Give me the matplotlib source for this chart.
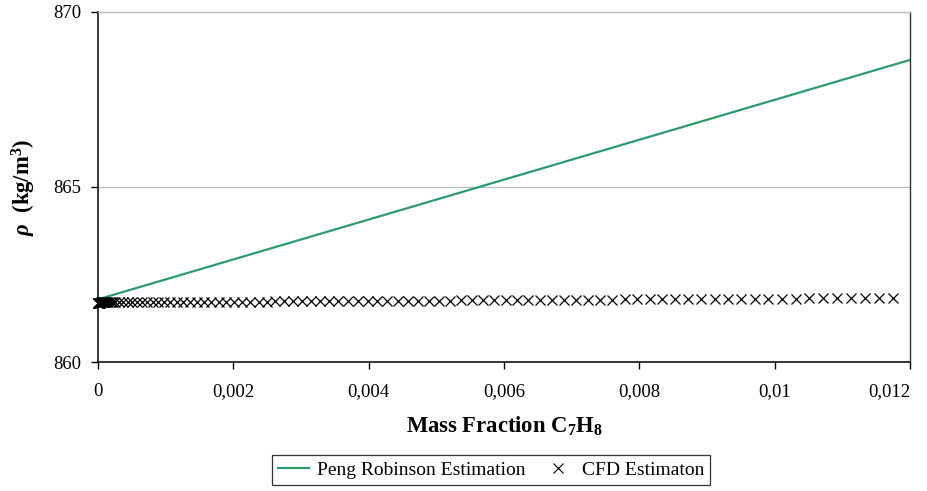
import matplotlib
matplotlib.use('Agg')
import matplotlib.pyplot as plt
from matplotlib.lines import Line2D

plt.rcParams['font.family'] = 'Liberation Serif'
plt.rcParams['mathtext.fontset'] = 'custom'
plt.rcParams['mathtext.rm'] = 'Liberation Serif:bold'
plt.rcParams['mathtext.it'] = 'Liberation Serif:bold:italic'
plt.rcParams['mathtext.bf'] = 'Liberation Serif:bold'

# Peng Robinson estimation (straight line)
pr_x = [0.0, 0.006, 0.012]
pr_y = [861.79, 865.21, 868.63]

# CFD estimation points
cfd_x = [0.0, 0.000001, 0.000003, 0.000006, 0.000010, 0.000015, 0.000020, 0.000025,
         0.000035, 0.000045, 0.000055, 0.000068, 0.000080, 0.000090, 0.000106,
         0.000125, 0.000140, 0.000151, 0.000175, 0.000200, 0.000225, 0.000253,
         0.000310, 0.000372, 0.000437, 0.000505, 0.000576, 0.000650, 0.000729,
         0.000810, 0.000894, 0.000981, 0.001071, 0.001165, 0.001261, 0.001360,
         0.001463, 0.001566, 0.001674, 0.001785, 0.001899, 0.002014, 0.002131,
         0.002251, 0.002372, 0.002496, 0.002622, 0.002749, 0.002879, 0.003010,
         0.003143, 0.003278, 0.003415, 0.003554, 0.003695, 0.003838, 0.003983,
         0.004129, 0.004277, 0.004427, 0.004580, 0.004733, 0.004889, 0.005045,
         0.005205, 0.005364, 0.005527, 0.005691, 0.005857, 0.006023, 0.006192,
         0.006362, 0.006535, 0.006709, 0.006884, 0.007059, 0.007237, 0.007416,
         0.007597, 0.007781, 0.007965, 0.008152, 0.008339, 0.008530, 0.008722,
         0.008915, 0.009111, 0.009307, 0.009505, 0.009703, 0.009904, 0.010105,
         0.010309, 0.010513, 0.010717, 0.010921, 0.011128, 0.011335, 0.011542,
         0.011749]
cfd_y = [861.700, 861.700, 861.700, 861.700, 861.700, 861.700, 861.700, 861.700,
         861.700, 861.701, 861.701, 861.701, 861.701, 861.701, 861.701,
         861.701, 861.702, 861.702, 861.702, 861.702, 861.702, 861.703,
         861.703, 861.704, 861.705, 861.706, 861.706, 861.707, 861.708,
         861.709, 861.710, 861.711, 861.712, 861.713, 861.714, 861.715,
         861.716, 861.717, 861.718, 861.720, 861.721, 861.722, 861.723,
         861.725, 861.726, 861.727, 861.729, 861.730, 861.732, 861.733,
         861.735, 861.736, 861.738, 861.739, 861.741, 861.742, 861.744,
         861.745, 861.747, 861.749, 861.750, 861.752, 861.754, 861.755,
         861.757, 861.759, 861.761, 861.763, 861.764, 861.766, 861.768,
         861.770, 861.772, 861.774, 861.776, 861.778, 861.780, 861.782,
         861.784, 861.786, 861.788, 861.790, 861.792, 861.794, 861.796,
         861.798, 861.800, 861.802, 861.805, 861.807, 861.809, 861.811,
         861.813, 861.816, 861.818, 861.820, 861.822, 861.824, 861.827,
         861.829]

x_ticks = [0, 0.002, 0.004, 0.006, 0.008, 0.010, 0.012]
x_tick_labels = ['0', '0,002', '0,004', '0,006', '0,008', '0,01', '0,012']
y_ticks = [860, 865, 870]

green = '#2E9B6B'

fig = plt.figure(figsize=(9.28, 4.91), dpi=100, facecolor='white')
ax = fig.add_axes([0.1056, 0.2627, 0.8750, 0.7129])

ax.plot(pr_x, pr_y, color=green, linewidth=1.6, zorder=3)
ax.plot(cfd_x, cfd_y, linestyle='none', marker='x', markersize=6.5,
        markeredgewidth=0.9, color='black', zorder=4, clip_on=False)

ax.set_xlim(0, 0.012)
ax.set_ylim(860, 870)
ax.set_xticks(x_ticks)
ax.set_xticklabels(x_tick_labels)
ax.set_yticks(y_ticks)
ax.tick_params(axis='both', direction='out', length=5, width=1, labelsize=13.5,
               colors='black')
ax.tick_params(axis='x', pad=10)
ax.tick_params(axis='y', pad=7)
# last x label kept inside the figure, as in the original
ax.get_xticklabels()[-1].set_horizontalalignment('right')
ax.yaxis.grid(True, color='#BBBBBB', linewidth=0.9)
ax.set_axisbelow(True)

ax.spines['left'].set_color('black')
ax.spines['bottom'].set_color('black')
ax.spines['left'].set_linewidth(1.1)
ax.spines['bottom'].set_linewidth(1.1)
ax.spines['top'].set_color('#BBBBBB')
ax.spines['right'].set_color('#333333')
ax.spines['top'].set_linewidth(0.9)
ax.spines['right'].set_linewidth(1.0)

ax.set_xlabel('Mass Fraction C$_7$H$_8$', fontsize=16.3, fontweight='bold', labelpad=11)
ax.set_ylabel('$\\rho$  (kg/m$^3$)', fontsize=16.3, fontweight='bold', labelpad=11)

handles = [Line2D([], [], color=green, linewidth=1.6),
           Line2D([], [], linestyle='none', marker='x', color='black',
                  markersize=6.5, markeredgewidth=0.8)]
leg = fig.legend(handles, ['Peng Robinson Estimation', 'CFD Estimaton'],
                 loc='center', bbox_to_anchor=(491 / 928, 1 - 470 / 491),
                 ncol=2, fontsize=14, frameon=True, fancybox=False,
                 handlelength=1.6, handletextpad=0.4, columnspacing=0.9,
                 borderpad=0.3)
leg.get_frame().set_edgecolor('black')
leg.get_frame().set_linewidth(0.9)

fig.savefig('out.png', dpi=100, facecolor='white')
